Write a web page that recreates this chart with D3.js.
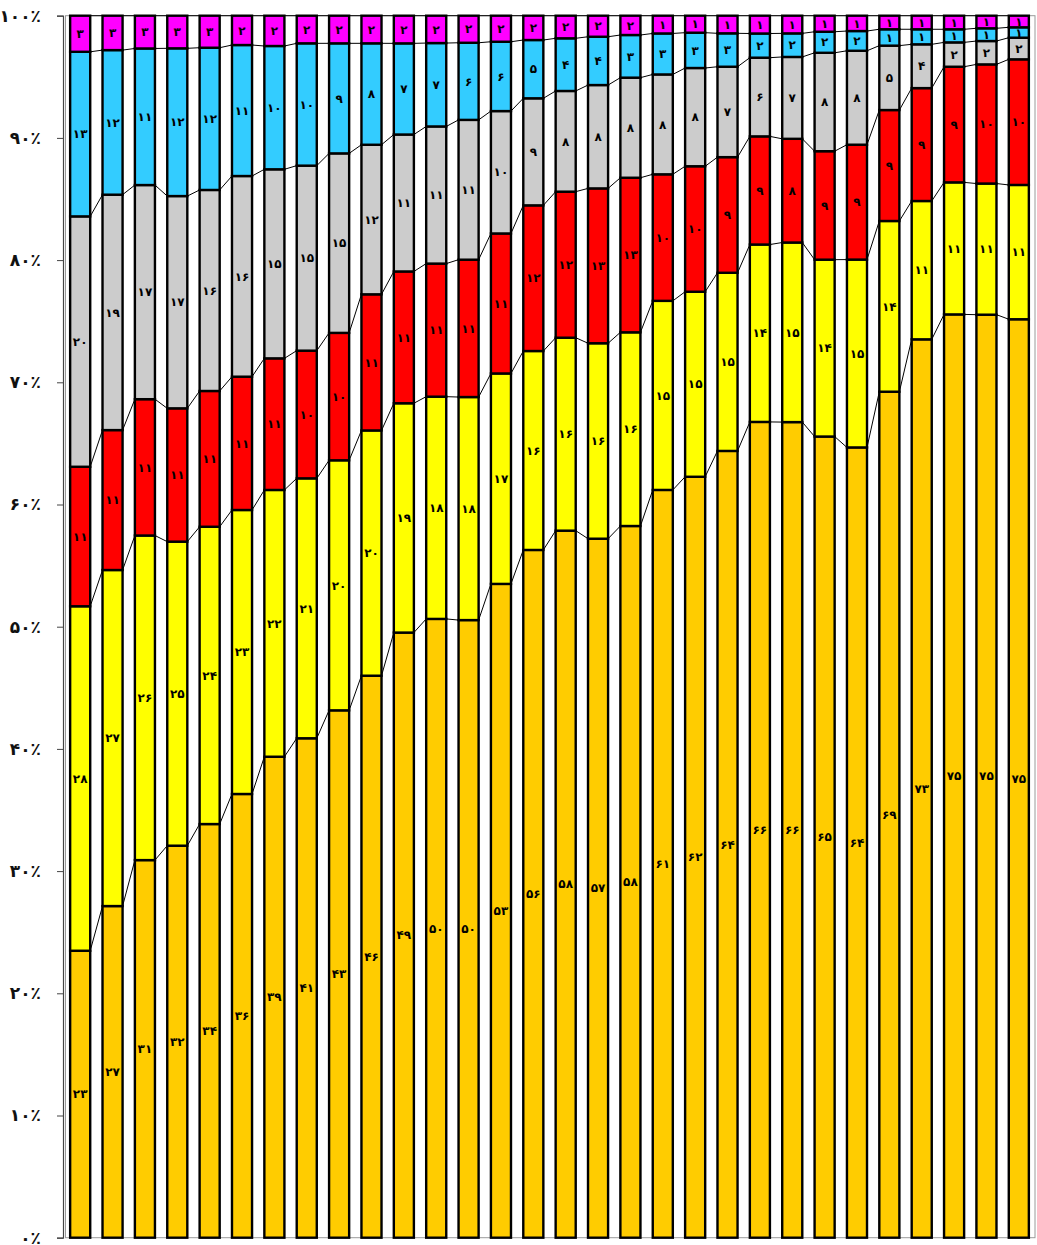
<!DOCTYPE html>
<html>
<head>
<meta charset="utf-8">
<script src="https://cdn.jsdelivr.net/npm/d3@7.9.0/dist/d3.min.js"></script>
<style>
  html, body { margin: 0; padding: 0; background: #fff; }
  svg { display: block; }
  text { font-family: "DejaVu Sans", sans-serif; font-weight: bold; }
</style>
</head>
<body>
<svg id="chart" width="1037" height="1245"></svg>
<script>
// 30 categories, no axis labels shown under the bars
const categories = d3.range(1, 31);

// values (shares in %, bottom to top)
const orangeVals = [23.45, 27.09, 30.77, 32.08, 33.85, 36.31, 39.36, 40.87, 43.13, 45.99,
  49.45, 50.45, 50.45, 53.47, 56.28, 57.86, 57.15, 58.24, 61.10, 62.27,
  64.30, 66.45, 66.45, 65.45, 64.45, 69.23, 73.45, 75.45, 75.45, 75.16];
const yellowVals = [28.15, 27.45, 26.45, 24.88, 24.33, 23.24, 21.83, 21.27, 20.45, 20.07,
  18.74, 18.12, 18.22, 17.21, 16.28, 15.79, 15.98, 15.85, 15.45, 15.14,
  14.56, 14.45, 14.63, 14.45, 15.32, 13.97, 11.31, 10.79, 10.72, 10.99];
const redVals = [11.40, 11.43, 11.11, 10.91, 11.11, 10.91, 10.77, 10.45, 10.42, 11.14,
  10.77, 10.85, 11.22, 11.45, 11.92, 11.95, 12.66, 12.65, 10.34, 10.27,
  9.45, 8.81, 8.45, 8.86, 9.37, 9.08, 9.23, 9.45, 9.74, 10.28];
const grayVals = [20.46, 19.23, 17.45, 17.37, 16.45, 16.42, 15.47, 15.14, 14.68, 12.24,
  11.19, 11.18, 11.42, 10.01, 8.76, 8.24, 8.45, 8.19, 8.16, 8.04,
  7.39, 6.41, 6.67, 8.04, 7.66, 5.27, 3.58, 1.99, 1.91, 1.77];
const blueVals = [13.45, 11.81, 11.13, 12.09, 11.64, 10.72, 10.09, 10.01, 9.00, 8.30,
  7.45, 6.80, 6.30, 5.67, 4.77, 4.31, 3.95, 3.49, 3.35, 2.89,
  2.73, 1.97, 1.92, 1.72, 1.61, 1.34, 1.23, 1.07, 1.04, 0.85];
const magentaVals = [2.95, 2.81, 2.67, 2.67, 2.62, 2.40, 2.48, 2.26, 2.26, 2.26,
  2.26, 2.23, 2.21, 2.13, 1.99, 1.85, 1.72, 1.58, 1.45, 1.39,
  1.44, 1.45, 1.44, 1.31, 1.25, 1.11, 1.11, 1.11, 1.03, 0.95];

const yTicks = [0, 10, 20, 30, 40, 50, 60, 70, 80, 90, 100];

const keys = ['orange', 'yellow', 'red', 'gray', 'blue', 'magenta'];
const colors = {
  orange: '#FFCC00', yellow: '#FFFF00', red: '#FF0000',
  gray: '#CCCCCC', blue: '#33CCFF', magenta: '#FF00FF'
};

const rows = categories.map((c, i) => ({
  cat: c,
  orange: orangeVals[i], yellow: yellowVals[i], red: redVals[i],
  gray: grayVals[i], blue: blueVals[i], magenta: magentaVals[i]
}));

const faDigits = '۰۱۲۳۴۵۶۷۸۹';
const toFa = (n) => String(n).replace(/\d/g, (d) => faDigits[+d]);

const svg = d3.select('#chart');
const plotLeft = 63, plotRight = 1035, plotTop = 15.7, plotBottom = 1237.7;

const x = d3.scaleBand()
  .domain(categories)
  .range([plotLeft + 1, plotRight])
  .paddingInner(0.38)
  .paddingOuter(0.19);

const y = d3.scaleLinear().domain([0, 1]).range([plotBottom, plotTop]);

const stacked = d3.stack().keys(keys).offset(d3.stackOffsetExpand)(rows);

// plot frame
svg.append('rect')
  .attr('x', plotLeft + 2.5).attr('y', plotTop)
  .attr('width', plotRight - plotLeft - 2.5).attr('height', plotBottom - plotTop)
  .attr('fill', 'none').attr('stroke', '#9a9a9a').attr('stroke-width', 1);

// y axis
const yAxis = d3.axisLeft(y)
  .tickValues(yTicks.map((t) => t / 100))
  .tickSize(6)
  .tickFormat((d) => toFa(Math.round(d * 100)) + '٪');

const ag = svg.append('g')
  .attr('transform', `translate(${plotLeft},0)`)
  .call(yAxis);
ag.select('.domain').attr('stroke', '#444').attr('stroke-width', 1.2);
ag.selectAll('.tick line').attr('stroke', '#444');
ag.selectAll('.tick text')
  .attr('x', -22)
  .attr('font-size', 17)
  .attr('font-family', '"DejaVu Sans", sans-serif')
  .attr('font-weight', 'bold')
  .attr('fill', '#111');

// series lines between bars
const bw = x.bandwidth();
const lineG = svg.append('g');
stacked.forEach((s) => {
  for (let i = 0; i < s.length - 1; i++) {
    lineG.append('line')
      .attr('x1', x(categories[i]) + bw)
      .attr('y1', y(s[i][1]))
      .attr('x2', x(categories[i + 1]))
      .attr('y2', y(s[i + 1][1]))
      .attr('stroke', '#000')
      .attr('stroke-width', 1);
  }
});

// bars
const barG = svg.append('g');
stacked.forEach((s) => {
  barG.selectAll(null)
    .data(s)
    .join('rect')
    .attr('x', (d) => x(d.data.cat))
    .attr('y', (d) => y(d[1]))
    .attr('width', bw)
    .attr('height', (d) => y(d[0]) - y(d[1]))
    .attr('fill', colors[s.key])
    .attr('stroke', '#000')
    .attr('stroke-width', 2.4);
});

// value labels
const labG = svg.append('g');
stacked.forEach((s) => {
  labG.selectAll(null)
    .data(s)
    .join('text')
    .attr('x', (d) => x(d.data.cat) + bw / 2)
    .attr('y', (d) => (y(d[0]) + y(d[1])) / 2)
    .attr('dy', '0.35em')
    .attr('text-anchor', 'middle')
    .attr('font-size', 12)
    .attr('fill', '#000')
    .text((d) => toFa(Math.round(d.data[s.key])));
});
</script>
</body>
</html>
